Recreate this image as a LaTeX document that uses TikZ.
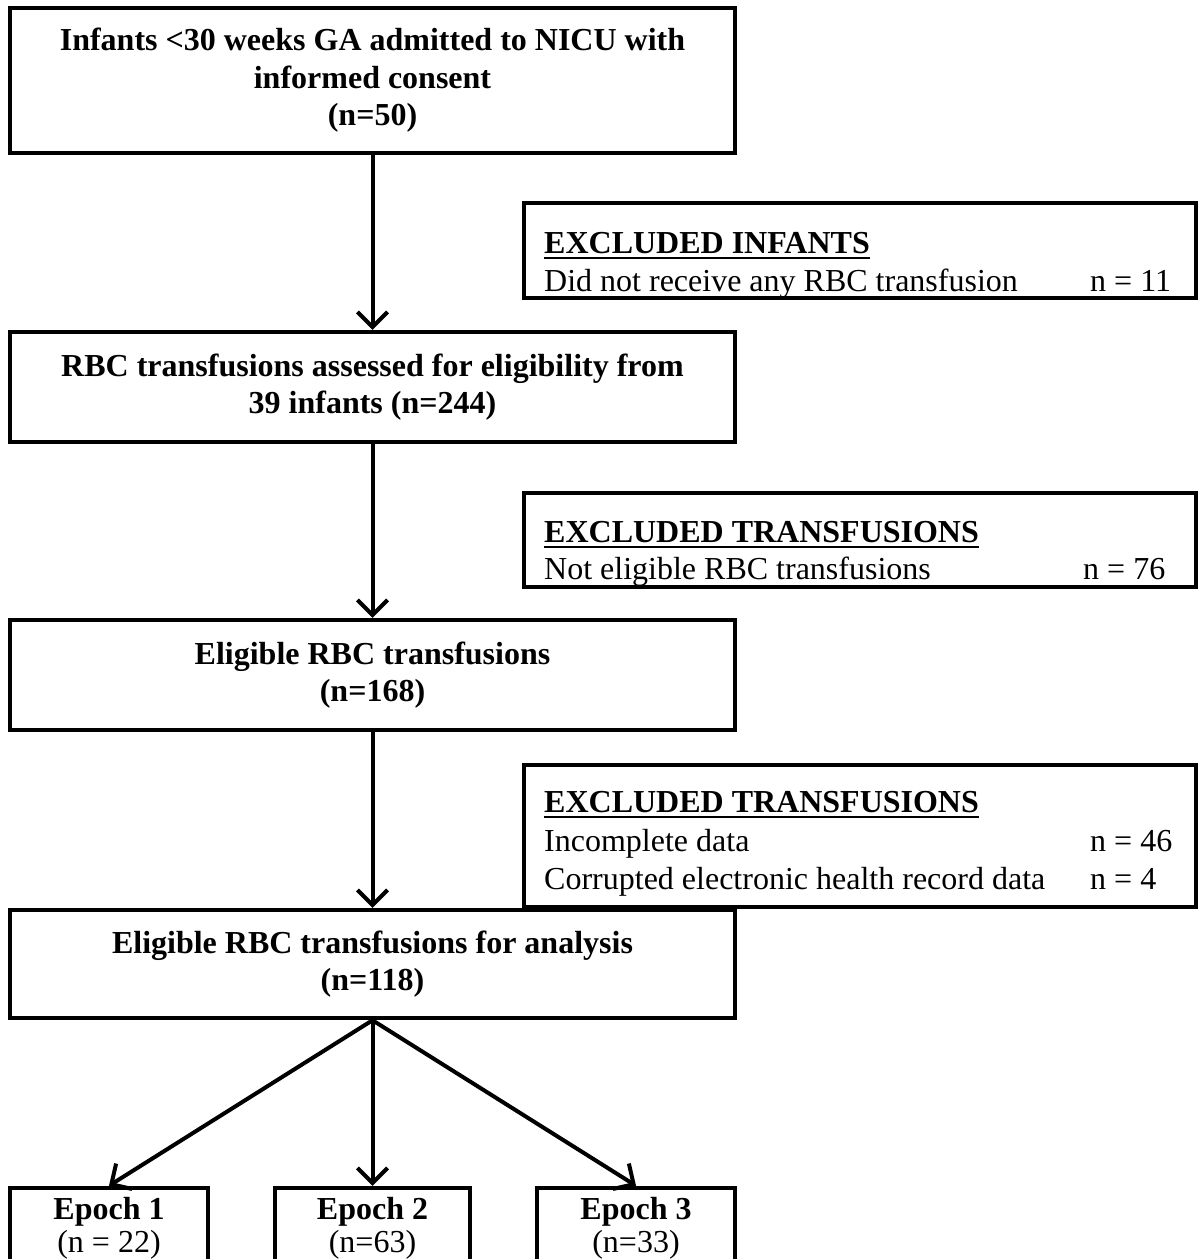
\documentclass[tikz,border=0pt]{standalone}
\usepackage{fontspec}
\setmainfont{Liberation Serif}
\usetikzlibrary{arrows.meta}
\begin{document}
\begin{tikzpicture}[x=1pt,y=-1pt,
  mainbox/.style={draw, line width=4.5pt, rectangle, inner sep=0pt, align=center,
    font=\bfseries\fontsize{32}{37.5}\selectfont},
  epochbox/.style={draw, line width=4.5pt, rectangle, inner sep=0pt, align=center,
    font=\bfseries\fontsize{32}{33}\selectfont},
  exbox/.style={draw, line width=4pt, rectangle, inner sep=0pt},
  extxt/.style={anchor=base west, inner sep=0pt, font=\fontsize{32}{38}\selectfont},
  exhead/.style={anchor=base west, inner sep=0pt, font=\bfseries\fontsize{32}{38}\selectfont},
  arr/.style={line width=4pt, -{Straight Barb[length=15pt,width=30pt,line width=4pt]}},
  uline/.style={line width=2.2pt}
]
\useasboundingbox (0,0) rectangle (1198,1259);
\clip (0,0) rectangle (1198,1259);

% main column
\node[mainbox, minimum width=725pt, minimum height=145pt] (b1) at (372.5,80.5)
  {Infants <30 weeks GA admitted to NICU with\\informed consent\\(n=50)};
\node[mainbox, minimum width=725pt, minimum height=110pt] (b2) at (372.5,387)
  {RBC transfusions assessed for eligibility from\\39 infants (n=244)};
\node[mainbox, minimum width=725pt, minimum height=110pt] (b3) at (372.5,675)
  {Eligible RBC transfusions\\(n=168)};
\node[mainbox, minimum width=725pt, minimum height=108pt] (b4) at (372.5,964)
  {Eligible RBC transfusions for analysis\\(n=118)};

% epochs
\node[epochbox, minimum width=198pt, minimum height=80pt] (e1) at (109,1228)
  {Epoch 1\\\mdseries(n = 22)};
\node[epochbox, minimum width=195pt, minimum height=80pt] (e2) at (372.5,1228)
  {Epoch 2\\\mdseries(n=63)};
\node[epochbox, minimum width=198pt, minimum height=80pt] (e3) at (636,1228)
  {Epoch 3\\\mdseries(n=33)};

% excluded boxes
\node[exbox, minimum width=672pt, minimum height=95pt] (x1) at (860,250.5) {};
\node[exhead] (x1h) at (544,253) {EXCLUDED INFANTS};
\node[extxt] (x1a) at (544,291) {Did not receive any RBC transfusion};
\node[extxt] (x1n) at (1090,291) {n = 11};
\draw[uline] ([yshift=-5pt]x1h.base west) -- ([yshift=-5pt]x1h.base east);

\node[exbox, minimum width=672pt, minimum height=94pt] (x2) at (860,540) {};
\node[exhead] (x2h) at (544,542) {EXCLUDED TRANSFUSIONS};
\node[extxt] (x2a) at (544,579) {Not eligible RBC transfusions};
\node[extxt] (x2n) at (1083,579) {n = 76};
\draw[uline] ([yshift=-5pt]x2h.base west) -- ([yshift=-5pt]x2h.base east);

\node[exbox, minimum width=672pt, minimum height=142pt] (x3) at (860,836) {};
\node[exhead] (x3h) at (544,812) {EXCLUDED TRANSFUSIONS};
\node[extxt] (x3a) at (544,851) {Incomplete data};
\node[extxt] (x3an) at (1090,851) {n = 46};
\node[extxt] (x3b) at (544,889) {Corrupted electronic health record data};
\node[extxt] (x3bn) at (1090,889) {n = 4};
\draw[uline] ([yshift=-5pt]x3h.base west) -- ([yshift=-5pt]x3h.base east);

% connectors
\draw[arr] (b1.south) -- (b2.north);
\draw[arr] (b2.south) -- (b3.north);
\draw[arr] (b3.south) -- (b4.north);
\draw[arr] (b4.south) -- (e1.north);
\draw[arr] (b4.south) -- (e2.north);
\draw[arr] (b4.south) -- (e3.north);
\end{tikzpicture}
\end{document}
